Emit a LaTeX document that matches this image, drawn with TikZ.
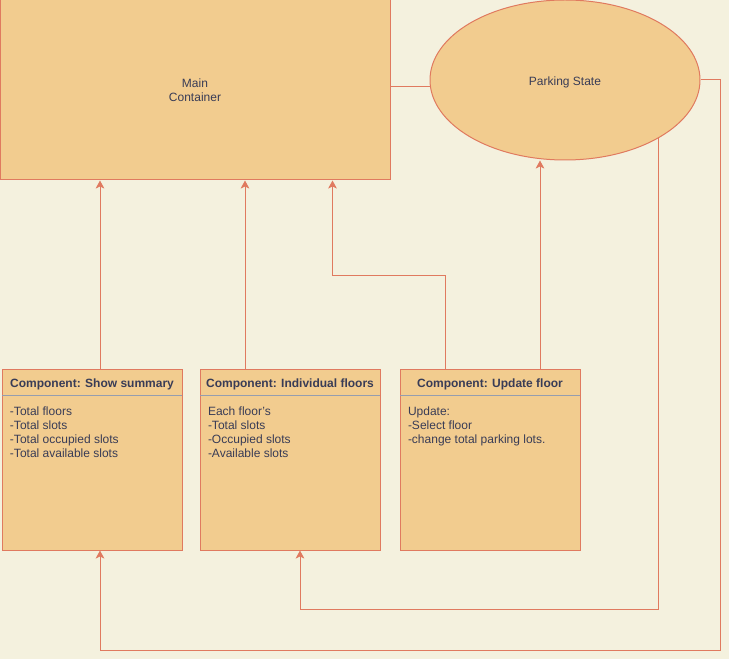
\documentclass[tikz,border=0pt]{standalone}
\usepackage{fontspec}
\setmainfont{Liberation Sans}
\usetikzlibrary{arrows.meta, shapes.geometric, calc}
\definecolor{bgfill}{HTML}{F4F1DE}
\definecolor{boxfill}{HTML}{F2CC8F}
\definecolor{boxedge}{HTML}{E07A5F}
\definecolor{txtcol}{HTML}{393C56}
\definecolor{sepline}{HTML}{959DAF}

\begin{document}
\begin{tikzpicture}[x=0.75pt, y=-0.75pt, line width=0.75pt,
  cont/.style={rectangle, draw=boxedge, fill=boxfill, minimum width=292.5pt,
               minimum height=135pt, inner sep=0, align=center, text=txtcol,
               font=\fontsize{9}{10.5}\selectfont},
  state/.style={ellipse, draw=boxedge, fill=boxfill, minimum width=202.5pt,
                minimum height=120pt, inner sep=0, text=txtcol,
                font=\fontsize{9}{10.5}\selectfont},
  comp/.style={rectangle, draw=boxedge, fill=boxfill, minimum width=135pt,
               minimum height=135pt, inner sep=0},
  head/.style={inner sep=0, text=txtcol, font=\bfseries\fontsize{9}{10.5}\selectfont},
  body/.style={inner sep=0, anchor=north west, align=left, text=txtcol,
               font=\fontsize{9}{10.5}\selectfont},
  sep/.style={draw=sepline},
  link/.style={draw=boxedge},
  conn/.style={draw=boxedge, -{Stealth[length=6pt, width=6.5pt, inset=1.5pt]}},
]
\fill[bgfill] (0,0) rectangle (729,659);
\useasboundingbox (0,0) rectangle (729,659);

\node[cont] (main) at (195,90) {Main\\Container};
\node[state] (pstate) at (565,80) {};
\node[text=txtcol, font=\fontsize{9}{10.5}\selectfont, inner sep=0] (pstatetx)
  at ($(pstate.center)+(0,2)$) {Parking State};

\node[comp] (summary) at (92,460) {};
\node[comp] (floors) at (290,460) {};
\node[comp] (update) at (490,460) {};

% header + separator + list of each component
\node[head] (summaryhd) at ($(summary.north)+(0,15)$) {Component: Show summary};
\node[head] (floorshd) at ($(floors.north)+(0,15)$) {Component: Individual floors};
\node[head] (updatehd) at ($(update.north)+(0,15)$) {Component: Update floor};
\foreach \c in {summary, floors, update} {
  \draw[sep] ($(\c.north west)+(0.5,26)$) -- ($(\c.north east)+(-0.5,26)$);
}
\node[body] (summarytx) at ($(summary.north west)+(8,37)$)
  {-Total floors\\-Total slots\\-Total occupied slots\\-Total available slots};
\node[body] (floorstx) at ($(floors.north west)+(8,37)$)
  {Each floor's\\-Total slots\\-Occupied slots\\-Available slots};
\node[body] (updatetx) at ($(update.north west)+(8,37)$)
  {Update:\\-Select floor\\-change total parking lots.};

% connector end points
\coordinate (mainr) at ($(main.east)+(0,-3)$);
\coordinate (summarytop) at ($(summary.north)+(8,0)$);
\coordinate (floorstop) at ($(floors.north)+(-45,0)$);
\coordinate (updatetopa) at ($(update.north)+(-45,0)$);
\coordinate (updatetopb) at ($(update.north)+(50,0)$);
\coordinate (benda) at ($(main.south west)+(333,95)$);
\coordinate (summarybot) at ($(summary.south)+(8,0)$);
\coordinate (floorsbot) at ($(floors.south)+(10,0)$);
\coordinate (bendb) at ($(floorsbot)+(0,59)$);
\coordinate (bendc) at ($(summarybot)+(0,100)$);
\coordinate (bendd) at ($(pstate.east)+(20,0)$);

\draw[link] (mainr) -- (mainr -| pstate.west);
\draw[conn] (summarytop) -- (summarytop |- main.south);
\draw[conn] (floorstop) -- (floorstop |- main.south);
\draw[conn] (updatetopa) |- (benda) -- (benda |- main.south);
\draw[conn] (updatetopb) -- (updatetopb |- pstate.south);
\draw[conn] (pstate.-32) |- (bendb) -- (floorsbot);
\draw[conn] (pstate.east) -- (bendd) |- (bendc) -- (summarybot);
\end{tikzpicture}
\end{document}
